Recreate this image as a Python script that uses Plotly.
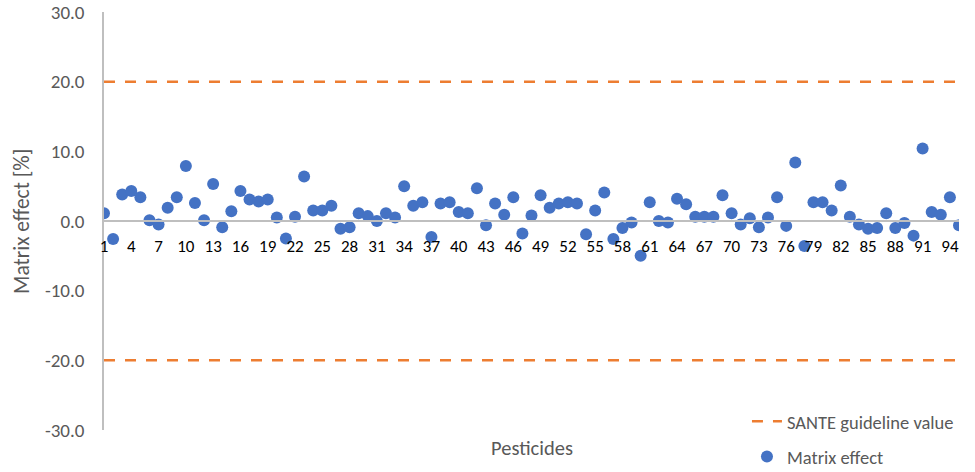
import plotly.graph_objects as go

pesticides = list(range(1, 96))
matrix_effect = [
    1.1, -2.6, 3.8, 4.3, 3.4, 0.1, -0.5, 1.9, 3.4, 7.9,
    2.6, 0.1, 5.3, -0.9, 1.4, 4.3, 3.1, 2.8, 3.1, 0.5,
    -2.5, 0.6, 6.4, 1.5, 1.5, 2.2, -1.1, -0.9, 1.1, 0.7,
    0.0, 1.1, 0.5, 5.0, 2.2, 2.7, -2.3, 2.5, 2.7, 1.3,
    1.1, 4.7, -0.6, 2.5, 0.9, 3.4, -1.8, 0.8, 3.7, 1.9,
    2.5, 2.7, 2.5, -1.9, 1.5, 4.1, -2.6, -1.0, -0.2, -5.0,
    2.7, 0.0, -0.2, 3.2, 2.4, 0.6, 0.6, 0.6, 3.7, 1.1,
    -0.5, 0.4, -0.9, 0.5, 3.4, -0.7, 8.4, -3.6, 2.7, 2.7,
    1.5, 5.1, 0.6, -0.5, -1.1, -1.0, 1.1, -1.0, -0.3, -2.1,
    10.4, 1.3, 0.9, 3.4, -0.6,
]
guideline_value = 20
y_ticks = [-30, -20, -10, 0, 10, 20, 30]
y_ticktext = ["%.1f" % v for v in y_ticks]
x_ticks = list(range(1, 96, 3))

FONT = "Calibri, Carlito, Lato, sans-serif"

fig = go.Figure()
g_x = [pesticides[0], pesticides[-1], None, pesticides[0], pesticides[-1]]
g_y = [guideline_value, guideline_value, None, -guideline_value, -guideline_value]
fig.add_trace(go.Scatter(
    x=g_x, y=g_y, mode="lines", name="SANTE guideline value",
    line=dict(color="#ED7D31", width=2.5, dash="11px,10px"),
    legendgroup="a", hoverinfo="skip",
))
fig.add_trace(go.Scatter(
    x=pesticides, y=matrix_effect, mode="markers", name="Matrix effect",
    marker=dict(color="#4472C4", size=12),
    legendgroup="b",
))

fig.update_layout(
    width=975, height=472,
    margin=dict(l=104, r=16, t=12, b=42, autoexpand=False),
    plot_bgcolor="white", paper_bgcolor="white",
    font=dict(family=FONT, size=18, color="#595959"),
    showlegend=True,
    legend=dict(
        x=0.752, y=0.065, xanchor="left", yanchor="top",
        font=dict(size=18.5, color="#595959"),
        tracegroupgap=8, bgcolor="rgba(0,0,0,0)",
    ),
    xaxis=dict(
        range=[1, 95], tickvals=x_ticks, ticktext=[str(v) for v in x_ticks],
        anchor="free", position=0.5,
        showline=True, linecolor="#BFBFBF", linewidth=1.5,
        showgrid=False, zeroline=False,
        ticks="outside", ticklen=10, tickcolor="rgba(0,0,0,0)",
        tickfont=dict(size=17, color="black"),
    ),
    yaxis=dict(
        range=[-30, 30], tickvals=y_ticks, ticktext=y_ticktext,
        showline=True, linecolor="#BFBFBF", linewidth=1.5,
        showgrid=False, zeroline=False,
        ticks="outside", ticklen=14, tickcolor="rgba(0,0,0,0)",
        tickfont=dict(size=19, color="#595959"),
    ),
    annotations=[
        dict(text="Pesticides", xref="paper", yref="paper", x=0.5, y=-0.043,
             showarrow=False, font=dict(size=20.5, color="#595959"),
             xanchor="center", yanchor="middle"),
        dict(text="Matrix effect [%]", xref="paper", yref="paper", x=-0.096, y=0.5,
             showarrow=False, textangle=-90, font=dict(size=21.5, color="#595959"),
             xanchor="center", yanchor="middle"),
    ],
)

fig.write_html("out.html", config={"displayModeBar": False},
               post_script="document.body.style.margin='0';")
